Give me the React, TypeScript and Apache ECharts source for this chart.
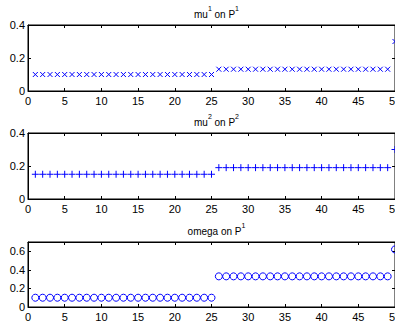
import React, { useEffect, useRef } from "react";
import * as echarts from "echarts";

const iterations = [1,2,3,4,5,6,7,8,9,10,11,12,13,14,15,16,17,18,19,20,21,22,23,24,25,26,27,28,29,30,31,32,33,34,35,36,37,38,39,40,41,42,43,44,45,46,47,48,49,50];
const mu1Values = [0.1,0.1,0.1,0.1,0.1,0.1,0.1,0.1,0.1,0.1,0.1,0.1,0.1,0.1,0.1,0.1,0.1,0.1,0.1,0.1,0.1,0.1,0.1,0.1,0.1,0.132,0.132,0.132,0.132,0.132,0.132,0.132,0.132,0.132,0.132,0.132,0.132,0.132,0.132,0.132,0.132,0.132,0.132,0.132,0.132,0.132,0.132,0.132,0.132,0.3];
const mu2Values = [0.15,0.15,0.15,0.15,0.15,0.15,0.15,0.15,0.15,0.15,0.15,0.15,0.15,0.15,0.15,0.15,0.15,0.15,0.15,0.15,0.15,0.15,0.15,0.15,0.15,0.19,0.19,0.19,0.19,0.19,0.19,0.19,0.19,0.19,0.19,0.19,0.19,0.19,0.19,0.19,0.19,0.19,0.19,0.19,0.19,0.19,0.19,0.19,0.19,0.3];
const omegaValues = [0.1,0.1,0.1,0.1,0.1,0.1,0.1,0.1,0.1,0.1,0.1,0.1,0.1,0.1,0.1,0.1,0.1,0.1,0.1,0.1,0.1,0.1,0.1,0.1,0.1,0.33,0.33,0.33,0.33,0.33,0.33,0.33,0.33,0.33,0.33,0.33,0.33,0.33,0.33,0.33,0.33,0.33,0.33,0.33,0.33,0.33,0.33,0.33,0.33,0.62];

const titles = [
  ["mu", "1", " on P", "1"],
  ["mu", "2", " on P", "2"],
  ["omega on P", "", "", "1"],
];
const yMaxes = [0.4, 0.4, 0.7];
const seriesValues = [mu1Values, mu2Values, omegaValues];
const symbols = [
  "path://M0,0L10,10M10,0L0,10",
  "path://M5,0L5,10M0,5L10,5",
  "circle",
];
const symbolSizes = [5, 7, 7];

const FONT = "'Liberation Sans', Arial, Helvetica, sans-serif";

export default function App() {
  const ref = useRef<HTMLDivElement>(null);
  useEffect(() => {
    if (!ref.current) return;
    const chart = echarts.init(ref.current, undefined, { renderer: "svg" });
    const tops = [25, 133, 242];
    const gridH = 66;
    const left = 28;
    const width = 367;
    const grids = tops.map((t) => ({
      left,
      top: t,
      width,
      height: gridH,
      show: true,
      borderColor: "#000",
      borderWidth: 1,
      backgroundColor: "#fff",
    }));
    const xAxes: any[] = [];
    const yAxes: any[] = [];
    tops.forEach((_, i) => {
      const common = {
        gridIndex: i,
        type: "value",
        min: 0,
        max: 50,
        interval: 5,
        splitLine: { show: false },
        axisLine: { show: true, onZero: false, lineStyle: { color: "#000", width: 1 } },
        axisTick: { show: true, inside: true, length: 3, lineStyle: { color: "#000" } },
      };
      xAxes.push({
        ...common,
        position: "bottom",
        axisLabel: { show: true, color: "#000", fontSize: 11, fontFamily: FONT, margin: 4 },
      });
      xAxes.push({
        ...common,
        position: "top",
        axisLabel: { show: false },
      });
      const ycommon = {
        gridIndex: i,
        type: "value",
        min: 0,
        max: yMaxes[i],
        interval: 0.2,
        splitLine: { show: false },
        axisLine: { show: true, onZero: false, lineStyle: { color: "#000", width: 1 } },
        axisTick: { show: true, inside: true, length: 3, lineStyle: { color: "#000" } },
      };
      yAxes.push({
        ...ycommon,
        position: "left",
        axisLabel: {
          show: true,
          color: "#000",
          fontSize: 11,
          fontFamily: FONT,
          margin: 3,
          showMaxLabel: yMaxes[i] === 0.4,
          formatter: (v: number) => (Math.abs(v) < 1e-9 ? "0" : String(Math.round(v * 10) / 10)),
        },
      });
      yAxes.push({
        ...ycommon,
        position: "right",
        axisLabel: { show: false },
      });
    });
    const title = titles.map((t, i) => ({
      text: `{a|${t[0]}}` + (t[1] ? `{s|${t[1]}}` : "") + (t[2] ? `{a|${t[2]}}` : "") + `{s|${t[3]}}`,
      left: left + width / 2,
      textAlign: "center",
      top: tops[i] - 25,
      textStyle: {
        fontWeight: "normal",
        rich: {
          a: { fontSize: 10, fontFamily: FONT, fontWeight: "normal", color: "#000", lineHeight: 14, verticalAlign: "bottom" },
          s: { fontSize: 7, fontFamily: FONT, fontWeight: "normal", color: "#000", lineHeight: 14, verticalAlign: "top" },
        },
      },
    }));
    const series = seriesValues.map((vals, i) => ({
      type: "scatter",
      xAxisIndex: i * 2,
      yAxisIndex: i * 2,
      data: iterations.map((x, k) => [x, vals[k]]),
      symbol: symbols[i],
      symbolSize: symbolSizes[i],
      itemStyle: { color: "rgba(0,0,0,0)", borderColor: "#0000ff", borderWidth: 1, opacity: 1 },
      emphasis: { disabled: true },
    }));
    chart.setOption({
      animation: false,
      backgroundColor: "#fff",
      title,
      grid: grids,
      xAxis: xAxes,
      yAxis: yAxes,
      series,
    });
    return () => chart.dispose();
  }, []);
  return (
    <div style={{ position: "fixed", left: 0, top: 0, width: 395, height: 322, overflow: "hidden", background: "#fff" }}>
      <div ref={ref} style={{ width: 430, height: 322 }} />
    </div>
  );
}
